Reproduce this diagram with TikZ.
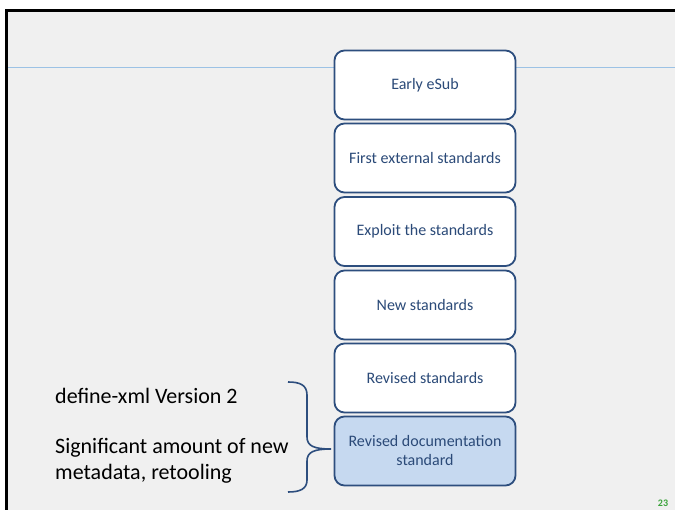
\documentclass[tikz,border=0pt]{standalone}
\usepackage{fontspec}
\setmainfont{Carlito}
\definecolor{slidebg}{HTML}{F0F0F0}
\definecolor{boxline}{HTML}{2D4E7E}
\definecolor{boxtext}{HTML}{2B4A78}
\definecolor{rulecol}{HTML}{9CC2E5}
\definecolor{hifill}{HTML}{C6D9F0}
\definecolor{pagenum}{HTML}{3BA33B}
\tikzset{
  x=1pt, y=-1pt,
  stagebox/.style={draw=boxline, line width=1.8pt, rounded corners=10pt, fill=white,
    minimum width=181pt, minimum height=69pt, align=center,
    text=boxtext, font=\fontsize{16}{19}\selectfont, inner sep=0pt},
  note/.style={anchor=west, text=black, font=\fontsize{22}{26}\selectfont, align=left, inner sep=0pt},
}
\begin{document}
\begin{tikzpicture}
\useasboundingbox (0,0) rectangle (675,510);
% slide background and frame
\fill[white] (0,0) rectangle (675,510);
\fill[slidebg] (6.5,10.5) rectangle (675,510);
\draw[line width=3pt] (6.5,510) -- (6.5,10.5) -- (675,10.5);
% title rule
\draw[rulecol, line width=1pt] (8,68) -- (675,68);
% stages
\node[stagebox] (s1) at (425,85) {Early eSub};
\node[stagebox] (s2) at (425,158) {First external standards};
\node[stagebox] (s3) at (425,231.5) {Exploit the standards};
\node[stagebox] (s4) at (425,305) {New standards};
\node[stagebox] (s5) at (425,378) {Revised standards};
\node[stagebox, fill=hifill] (s6) at (425,451) {Revised documentation\\standard};
% notes
\node[note] (n1) at (55,396) {define-xml Version 2};
\node[note] (n2) at (55,461) {Significant amount of new\\metadata, retooling};
% brace
\coordinate (btop) at (288,382);
\coordinate (btip) at (331,449);
\coordinate (bbot) at (288,492);
\draw[boxline, line width=1.6pt]
  (btop) .. controls (300,382) and (307,385) .. (307,395) -- (307,437)
  .. controls (307,446) and (314,449) .. (btip)
  .. controls (314,449) and (307,452) .. (307,461) -- (307,480)
  .. controls (307,489) and (300,492) .. (bbot);
% page number
\node[text=pagenum, font=\bfseries\fontsize{10}{11}\selectfont, inner sep=0pt] (pg) at (663,503) {23};
\end{tikzpicture}
\end{document}
